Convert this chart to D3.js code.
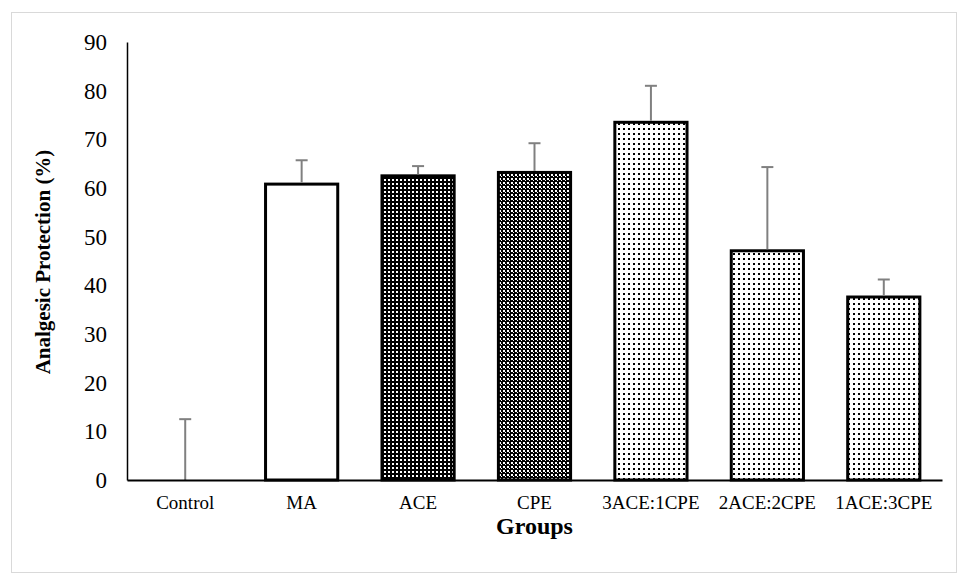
<!DOCTYPE html>
<html lang="en">
    <head>
        <meta charset="utf-8">
        <title>Analgesic Protection</title>
        <script src="https://cdn.jsdelivr.net/npm/d3@7/dist/d3.min.js" charset="utf-8"></script>
        <style type="text/css">
            body { margin: 0; background: #fff; }
            text { font-family: "Liberation Serif", "Times New Roman", serif; fill: #000; }
        </style>
    </head>
    <body>
        <div id="chart"></div>
        <script>
            // Data
            var groups = ["Control", "MA", "ACE", "CPE", "3ACE:1CPE", "2ACE:2CPE", "1ACE:3CPE"];
            var means = [0, 60.8, 62.5, 63.2, 73.5, 47.1, 37.6];
            var errors = [12.5, 4.9, 2.0, 6.0, 7.5, 17.2, 3.6];
            var fills = ["none", "white", "url(#pAce)", "url(#pCpe)", "url(#pDots)", "url(#pDots)", "url(#pDots)"];
            var yTicks = [0, 10, 20, 30, 40, 50, 60, 70, 80, 90];

            var W = 963, H = 582;
            var margin = {top: 42, right: 21, bottom: 102, left: 127};
            var width = W - margin.left - margin.right,
                height = H - margin.top - margin.bottom;

            var root = d3.select("#chart").append("svg")
                .attr("width", W)
                .attr("height", H);

            // Patterns
            var defs = root.append("defs");
            var pa = defs.append("pattern").attr("id", "pAce")
                .attr("patternUnits", "userSpaceOnUse").attr("width", 4).attr("height", 4);
            pa.append("rect").attr("width", 4).attr("height", 4).attr("fill", "#000");
            pa.append("rect").attr("x", 1).attr("y", 1).attr("width", 2).attr("height", 2).attr("fill", "#fff");

            var pc = defs.append("pattern").attr("id", "pCpe")
                .attr("patternUnits", "userSpaceOnUse").attr("width", 4).attr("height", 4);
            pc.append("rect").attr("width", 4).attr("height", 4).attr("fill", "#000");
            pc.append("rect").attr("x", 0).attr("y", 0).attr("width", 2).attr("height", 2).attr("fill", "#fff");
            pc.append("rect").attr("x", 2).attr("y", 2).attr("width", 1).attr("height", 1).attr("fill", "#fff");

            var pd = defs.append("pattern").attr("id", "pDots")
                .attr("patternUnits", "userSpaceOnUse").attr("width", 5).attr("height", 5);
            pd.append("rect").attr("width", 5).attr("height", 5).attr("fill", "#fff");
            pd.append("rect").attr("x", 1).attr("y", 1).attr("width", 2).attr("height", 2).attr("fill", "#000");

            // Outer border
            root.append("rect")
                .attr("x", 11.5).attr("y", 12.5)
                .attr("width", 945).attr("height", 560)
                .attr("fill", "none").attr("stroke", "#d9d9d9").attr("stroke-width", 1);

            var svg = root.append("g")
                .attr("transform", "translate(" + margin.left + "," + margin.top + ")");

            // Scales
            var x = d3.scaleBand().domain(groups).range([0, width]).paddingInner(0.38).paddingOuter(0.19);
            var y = d3.scaleLinear().domain([0, 90]).range([height, 0]);

            // Bars
            svg.selectAll(".bar")
                .data(groups)
                .enter().append("rect")
                .attr("class", "bar")
                .attr("x", function(d) { return x(d); })
                .attr("y", function(d, i) { return y(means[i]); })
                .attr("width", x.bandwidth())
                .attr("height", function(d, i) { return height - y(means[i]); })
                .attr("fill", function(d, i) { return fills[i]; })
                .attr("stroke", function(d, i) { return means[i] > 0 ? "#000" : "none"; })
                .attr("stroke-width", 3);

            // Error bars
            var eb = svg.selectAll(".err")
                .data(groups)
                .enter().append("g")
                .attr("class", "err");
            eb.append("line")
                .attr("x1", function(d) { return x(d) + x.bandwidth() / 2; })
                .attr("x2", function(d) { return x(d) + x.bandwidth() / 2; })
                .attr("y1", function(d, i) { return y(means[i]) - (means[i] > 0 ? 1.5 : 0); })
                .attr("y2", function(d, i) { return y(means[i] + errors[i]); })
                .attr("stroke", "#808080").attr("stroke-width", 2);
            eb.append("line")
                .attr("x1", function(d) { return x(d) + x.bandwidth() / 2 - 6; })
                .attr("x2", function(d) { return x(d) + x.bandwidth() / 2 + 6; })
                .attr("y1", function(d, i) { return y(means[i] + errors[i]); })
                .attr("y2", function(d, i) { return y(means[i] + errors[i]); })
                .attr("stroke", "#808080").attr("stroke-width", 2);

            // Y axis
            var yAxis = d3.axisLeft(y).tickValues(yTicks).tickSize(0).tickPadding(20);
            var gy = svg.append("g").call(yAxis);
            gy.select(".domain").attr("stroke", "#000").attr("stroke-width", 1.5);
            gy.selectAll("text").style("font-size", "23px").style("font-family", "Liberation Serif");

            // X axis
            var xAxis = d3.axisBottom(x).tickSize(0).tickPadding(16);
            var gx = svg.append("g")
                .attr("transform", "translate(0," + height + ")")
                .call(xAxis);
            gx.select(".domain").attr("stroke", "#000").attr("stroke-width", 2);
            gx.selectAll("text").style("font-size", "19px").style("font-family", "Liberation Serif");

            // Axis titles
            root.append("text")
                .attr("transform", "translate(50,262) rotate(-90)")
                .attr("text-anchor", "middle")
                .style("font-size", "21px").style("font-weight", "bold")
                .text("Analgesic Protection (%)");
            root.append("text")
                .attr("x", margin.left + width / 2).attr("y", 534)
                .attr("text-anchor", "middle")
                .style("font-size", "24px").style("font-weight", "bold")
                .text("Groups");
        </script>
    </body>
</html>
